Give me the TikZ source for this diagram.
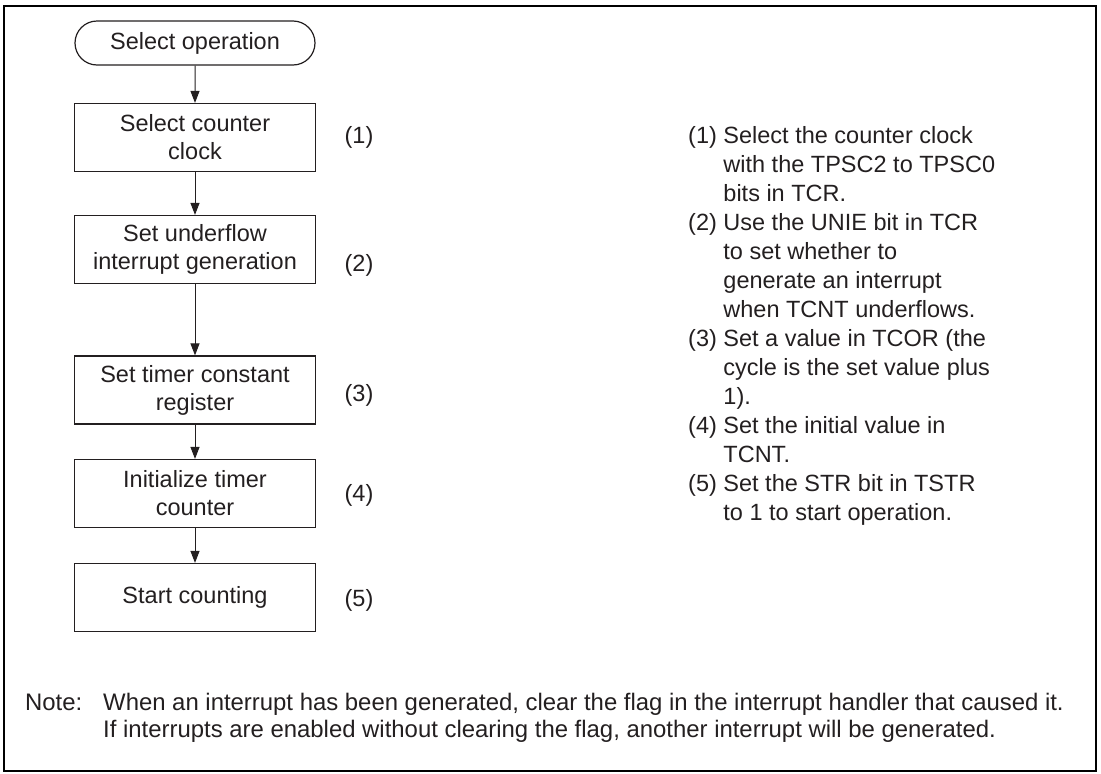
\documentclass[tikz,border=0pt]{standalone}
\usepackage{fontspec}
\setmainfont{Liberation Sans}
\usetikzlibrary{arrows.meta,shapes.misc}
\definecolor{ink}{HTML}{231F20}
\begin{document}
\begin{tikzpicture}[x=1pt,y=-1pt,
  txt/.style={font=\fontsize{23.5}{28}\selectfont, text=ink},
  stepbox/.style={draw=ink, line width=1.2pt, minimum width=241pt, minimum height=68pt, align=center, inner sep=0pt, txt},
  term/.style={draw=ink, rounded rectangle, line width=1.2pt, minimum width=240pt, minimum height=44pt, inner sep=0pt, txt},
  arr/.style={draw=ink, line width=1pt, -{Triangle[length=12pt,width=9pt]}},
  num/.style={txt, inner sep=0pt},
  desc/.style={font=\fontsize{23.5}{29}\selectfont, text=ink, align=left, inner sep=0pt},
  notetxt/.style={font=\fontsize{23.9}{27}\selectfont, text=ink, align=left, inner sep=0pt}]
\useasboundingbox (0,0) rectangle (1101,774);
\draw[line width=2pt] (4,6) rectangle (1096,771);
\node[term] (s) at (195,43) {Select operation};
\node[stepbox] (b1) at (195,137.5) {Select counter\\clock};
\node[stepbox] (b2) at (195,249.5) {Set underflow\\interrupt generation};
\node[stepbox] (b3) at (195,390) {Set timer constant\\register};
\node[stepbox] (b4) at (195,493.5) {Initialize timer\\counter};
\node[stepbox] (b5) at (195,597.5) {Start counting};
\draw[arr] (s) -- (b1);
\draw[arr] (b1) -- (b2);
\draw[arr] (b2) -- (b3);
\draw[arr] (b3) -- (b4);
\draw[arr] (b4) -- (b5);
\node[num] (n1) at (359,137) {(1)};
\node[num] (n2) at (359,265) {(2)};
\node[num] (n3) at (359,395) {(3)};
\node[num] (n4) at (359,495) {(4)};
\node[num] (n5) at (359,600) {(5)};
\node[desc, anchor=north west] (d) at (688,126) {(1) Select the counter clock\\
\hphantom{(1)~}with the TPSC2 to TPSC0\\
\hphantom{(1)~}bits in TCR.\\
(2) Use the UNIE bit in TCR\\
\hphantom{(2)~}to set whether to\\
\hphantom{(2)~}generate an interrupt\\
\hphantom{(2)~}when TCNT underflows.\\
(3) Set a value in TCOR (the\\
\hphantom{(3)~}cycle is the set value plus\\
\hphantom{(3)~}1).\\
(4) Set the initial value in\\
\hphantom{(4)~}TCNT.\\
(5) Set the STR bit in TSTR\\
\hphantom{(5)~}to 1 to start operation.};
\node[notetxt, anchor=north west] (nl) at (25,691) {\strut Note:};
\node[notetxt, anchor=north west] (nt) at (103,691) {\strut When an interrupt has been generated, clear the flag in the interrupt handler that caused it.\\
If interrupts are enabled without clearing the flag, another interrupt will be generated.};
\end{tikzpicture}
\end{document}
